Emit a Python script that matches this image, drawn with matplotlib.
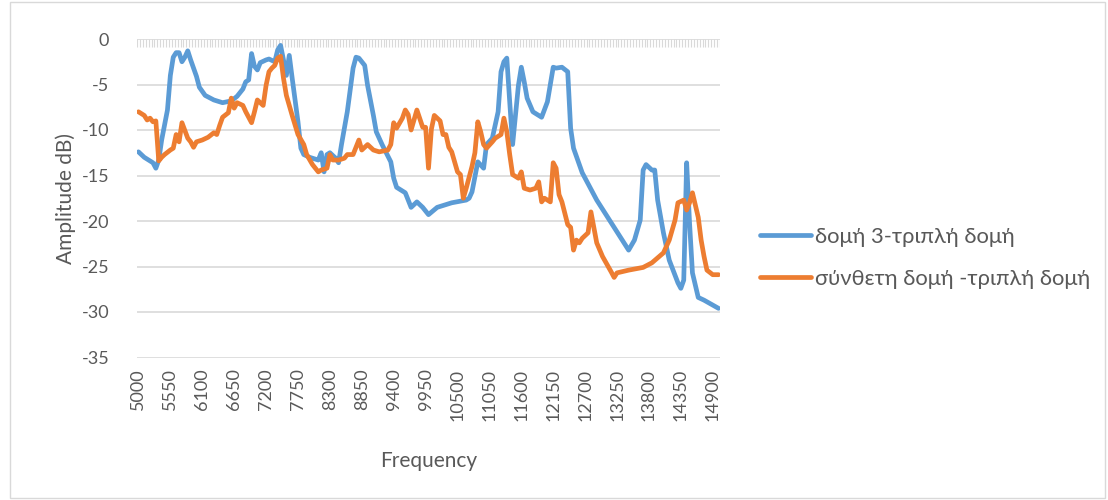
import numpy as np
import matplotlib
matplotlib.use("Agg")
import matplotlib.pyplot as plt
from matplotlib.patches import Rectangle

# δομή 3-τριπλή δομή
freq_blue = [5000, 5100, 5250, 5300, 5350, 5400, 5500, 5550, 5600, 5650, 5700, 5750,
             5800, 5850, 5900, 6000, 6050, 6150, 6300, 6450, 6600, 6700, 6800, 6850,
             6900, 6950, 7000, 7050, 7100, 7200, 7250, 7350, 7400, 7450, 7500, 7550,
             7600, 7650, 7750, 7800, 7850, 7950, 8100, 8150, 8200, 8250, 8300, 8400,
             8450, 8500, 8600, 8700, 8750, 8800, 8900, 8950, 9050, 9100, 9200, 9350,
             9400, 9450, 9600, 9700, 9800, 9900, 10000, 10150, 10400, 10650, 10700,
             10750, 10850, 10950, 11000, 11100, 11200, 11250, 11300, 11350, 11400,
             11450, 11550, 11600, 11650, 11700, 11800, 11900, 11950, 12050, 12150,
             12200, 12300, 12400, 12450, 12500, 12650, 12900, 13200, 13450, 13550,
             13650, 13700, 13750, 13850, 13900, 13950, 14050, 14150, 14300, 14350,
             14400, 14450, 14500, 14550, 14650, 14750, 15000]
amp_blue = [-12.4, -13.0, -13.6, -14.2, -13.3, -11.1, -7.8, -4.0, -2.0, -1.5, -1.5, -2.5,
            -2.0, -1.3, -2.3, -4.1, -5.3, -6.2, -6.7, -7.0, -6.8, -6.3, -5.5, -4.7,
            -4.5, -1.6, -3.0, -3.4, -2.6, -2.3, -2.2, -2.5, -1.2, -0.7, -2.3, -4.0,
            -1.8, -4.3, -9.1, -12.0, -12.7, -13.0, -13.3, -12.5, -14.6, -12.7, -12.5, -13.1,
            -13.6, -11.6, -8.0, -3.2, -2.0, -2.1, -2.9, -5.1, -8.4, -10.2, -11.6, -13.5,
            -15.3, -16.3, -16.9, -18.5, -17.9, -18.5, -19.3, -18.5, -18.0, -17.7, -17.5,
            -16.8, -13.5, -14.2, -11.6, -10.9, -8.0, -3.6, -2.5, -2.1, -6.9,
            -11.6, -5.1, -3.1, -4.7, -6.5, -8.0, -8.4, -8.6, -6.9, -3.1,
            -3.2, -3.1, -3.6, -9.8, -12.0, -14.7, -17.7, -20.7, -23.2, -22.1,
            -19.9, -14.4, -13.8, -14.4, -14.4, -17.7, -21.3, -24.3, -26.8, -27.4,
            -26.5, -13.6, -20.2, -25.7, -28.4, -28.7, -29.6]

# σύνθετη δομή -τριπλή δομή
freq_orange = [5000, 5100, 5150, 5200, 5250, 5300, 5350, 5400, 5450, 5550, 5600, 5650,
               5700, 5750, 5850, 5900, 5950, 6000, 6100, 6200, 6300, 6350, 6400, 6450,
               6550, 6600, 6650, 6700, 6800, 6850, 6900, 6950, 7000, 7050, 7150, 7200,
               7250, 7300, 7350, 7400, 7450, 7500, 7550, 7650, 7750, 7850, 7900, 8000,
               8100, 8150, 8250, 8300, 8350, 8450, 8550, 8600, 8700, 8750, 8800, 8850,
               8950, 9050, 9150, 9300, 9350, 9400, 9450, 9550, 9600, 9650, 9700, 9800,
               9900, 9950, 10000, 10050, 10100, 10200, 10250, 10300, 10350, 10400,
               10500, 10550, 10600, 10650, 10750, 10800, 10850, 10900, 10950, 11000,
               11100, 11150, 11250, 11300, 11350, 11400, 11450, 11550, 11600, 11650,
               11750, 11850, 11900, 11950, 12000, 12100, 12150, 12200, 12250, 12300,
               12400, 12450, 12500, 12550, 12600, 12650, 12750, 12800, 12850, 12900,
               13000, 13150, 13200, 13250, 13450, 13700, 13850, 14050, 14150, 14250,
               14300, 14400, 14450, 14500, 14550, 14650, 14700, 14750, 14800, 14900, 15000]
amp_orange = [-8.0, -8.4, -8.9, -8.7, -9.1, -9.0, -13.4, -13.0, -12.7, -12.2, -12.0, -10.5,
              -11.3, -9.2, -10.9, -11.3, -11.9, -11.3, -11.1, -10.8, -10.3, -10.5, -9.5, -8.6,
              -8.1, -6.5, -7.6, -7.0, -7.3, -8.0, -8.6, -9.2, -8.0, -6.7, -7.3, -5.1,
              -3.6, -3.2, -2.9, -2.1, -1.9, -4.3, -6.2, -8.4, -10.5, -11.6, -12.7, -13.8,
              -14.6, -14.4, -14.2, -12.7, -13.3, -13.3, -13.1, -12.7, -12.7, -11.9, -11.1, -12.2,
              -11.6, -12.2, -12.4, -12.2, -11.6, -9.2, -9.8, -8.7, -7.8, -8.3, -10.0, -7.8,
              -9.7, -9.7, -14.2, -9.9, -8.4, -9.0, -10.5, -10.5, -11.9, -12.4,
              -14.6, -14.9, -17.5, -16.4, -14.0, -12.5, -9.1, -10.2, -11.6, -12.0,
              -11.3, -10.9, -10.5, -8.7, -10.2, -12.7, -14.9, -15.3, -14.6, -16.4,
              -16.6, -16.4, -15.7, -17.9, -17.5, -17.9, -13.6, -14.2, -17.1, -17.9,
              -20.4, -20.7, -23.2, -22.1, -22.4, -21.9, -21.3, -19.0, -20.7, -22.4,
              -23.9, -25.6, -26.2, -25.7, -25.4, -25.1, -24.6, -23.5, -22.1, -19.9,
              -18.0, -17.7, -18.8, -18.0, -16.9, -19.6, -22.1, -23.9, -25.4, -25.9, -25.9]

labels = ["δομή 3-τριπλή δομή", "σύνθετη δομή -τριπλή δομή"]
x_ticks = list(range(5000, 15000, 550))
y_ticks = list(range(-35, 1, 5))
category_step = 50

plt.rcParams["font.family"] = ["Lato", "Open Sans", "DejaVu Sans"]
text_color = "#595959"
grid_color = "#d9d9d9"

fig = plt.figure(figsize=(11.08, 5.0), dpi=100)
ax = fig.add_axes([137 / 1108, 1 - 357.5 / 500, 583 / 1108, 318.5 / 500])

fig.patches.append(Rectangle((0.009, 0.004), 0.988, 0.993, transform=fig.transFigure,
                             fill=False, edgecolor=grid_color, linewidth=1))

for y in y_ticks[:-1]:
    ax.axhline(y, color=grid_color, lw=1.2, zorder=1)
ax.axhline(0, color=grid_color, lw=1.2, zorder=1)
# category tick marks on the horizontal axis (crosses at 0)
edges = np.arange(5000 - category_step / 2, 15000 + category_step, category_step)
ax.vlines(edges, -0.85, 0, color=grid_color, lw=0.8, zorder=1)

ax.plot(freq_blue, amp_blue, color="#5B9BD5", lw=3.4, label=labels[0],
        solid_joinstyle="round", solid_capstyle="round", zorder=3)
ax.plot(freq_orange, amp_orange, color="#ED7D31", lw=3.4, label=labels[1],
        solid_joinstyle="round", solid_capstyle="round", zorder=3)

ax.set_xlim(4975, 15025)
ax.set_ylim(-35, 0)
ax.set_xticks(x_ticks)
ax.set_xticklabels([str(t) for t in x_ticks], rotation=90, fontsize=13, color=text_color)
ax.set_yticks(y_ticks)
ax.set_yticklabels([str(t) for t in y_ticks], fontsize=13, color=text_color)
ax.tick_params(axis="y", length=0, pad=20)
ax.tick_params(axis="x", length=0, pad=8)
for s in ax.spines.values():
    s.set_visible(False)

ax.set_xlabel("Frequency", fontsize=15, color=text_color, labelpad=22)
ax.set_ylabel("Amplitude dB)", fontsize=15, color=text_color, labelpad=4)

leg = ax.legend(loc="center left", bbox_to_anchor=(1.068, 0.312), frameon=False,
                borderaxespad=0, borderpad=0,
                fontsize=15.8, handlelength=2.35, handletextpad=0.15, labelspacing=1.0)
for t in leg.get_texts():
    t.set_color(text_color)

fig.savefig("out.png", dpi=100)
